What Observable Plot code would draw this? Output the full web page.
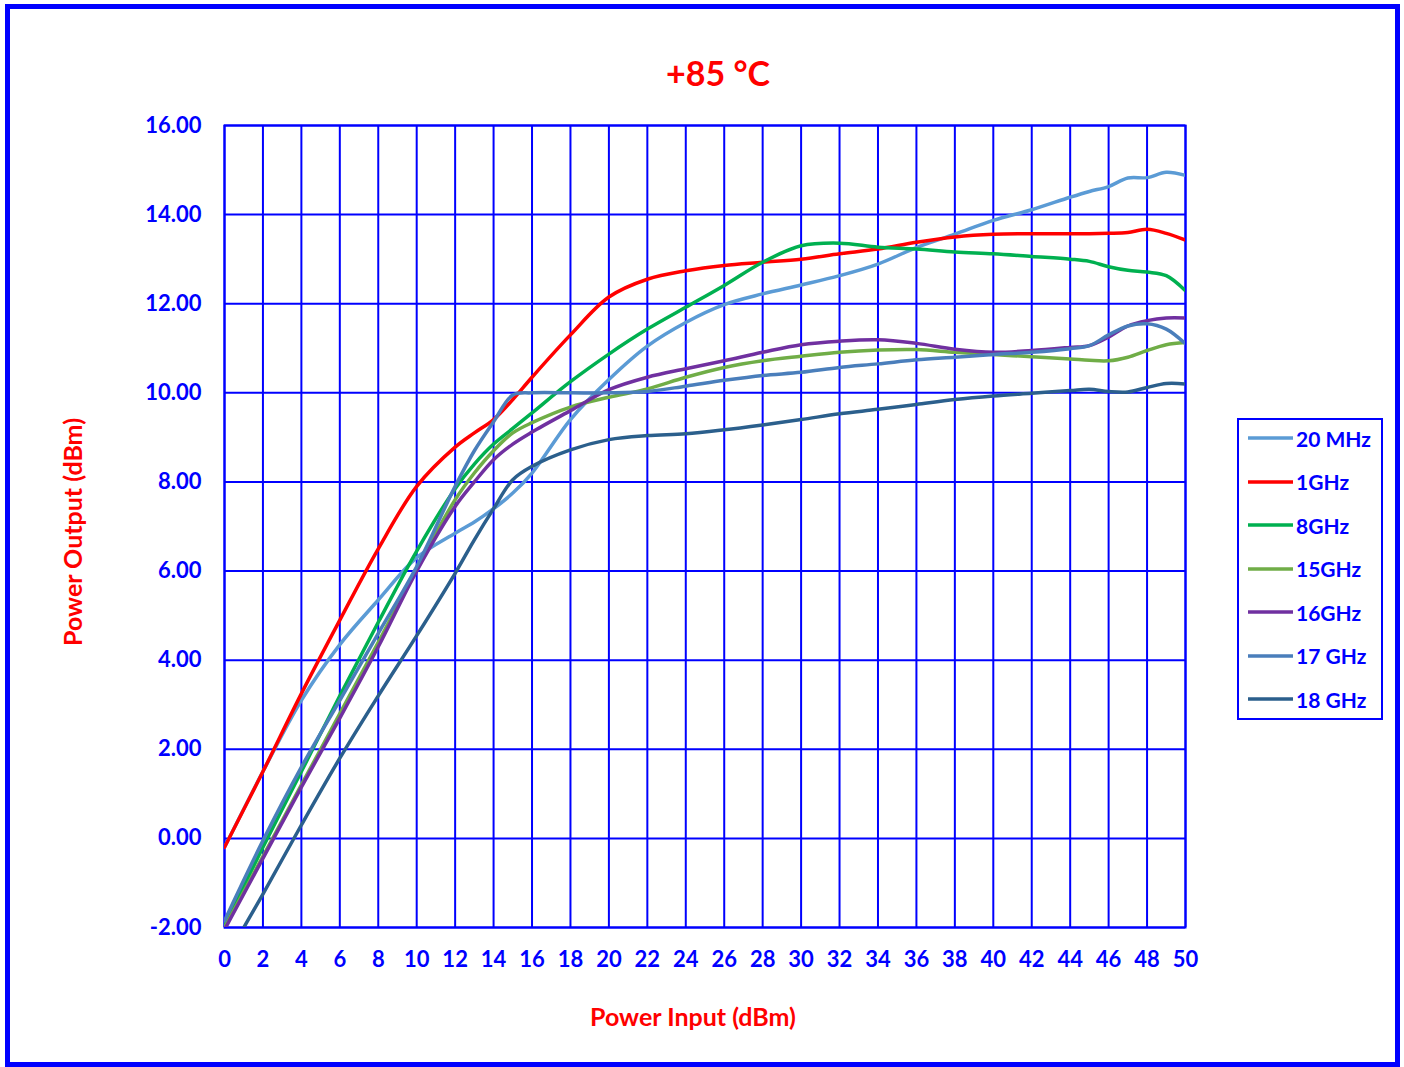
<!DOCTYPE html>
<html>
<head>
<meta charset="utf-8">
<script src="https://cdn.jsdelivr.net/npm/d3@7"></script>
<script src="https://cdn.jsdelivr.net/npm/@observablehq/plot@0.6"></script>
<style>
  html, body { margin: 0; padding: 0; background: #fff; }
  body { width: 1404px; height: 1067px; position: relative; overflow: hidden; font-family: Lato, "Open Sans", sans-serif; }
  #border { position: absolute; left: 5px; top: 4px; width: 1395px; height: 1063px; box-sizing: border-box; border: 5px solid #0000ff; }
  #chart { position: absolute; left: 0; top: 0; }
  .txt { position: absolute; font-weight: 700; white-space: nowrap; }
  #title { left: 0; width: 1436px; top: 52px; text-align: center; color: #ff0000; font-size: 34px; }
  #xlabel { left: 0; width: 1386px; top: 1001px; text-align: center; color: #ff0000; font-size: 25px; }
  #ylabel { left: 72px; top: 532px; color: #ff0000; font-size: 25px; transform: translate(-50%, -50%) rotate(-90deg); }
  #legend { position: absolute; left: 1237px; top: 418px; width: 146px; height: 302px; box-sizing: border-box; border: 2px solid #0000ff; background: #fff; }
  .item { position: absolute; left: 9px; height: 24px; display: flex; align-items: center; color: #0000ff; font-weight: 700; font-size: 21px; }
  .item svg { margin-right: 3px; }
</style>
</head>
<body>
<div id="border"></div>
<div id="chart"></div>
<div class="txt" id="title">+85 °C</div>
<div class="txt" id="xlabel">Power Input (dBm)</div>
<div class="txt" id="ylabel">Power Output (dBm)</div>
<div id="legend"></div>
<script>
// Input power sweep (dBm)
const powerIn = [0, 2, 4, 6, 8, 10, 12, 13, 14, 15, 16, 18, 20, 22, 24, 26, 28, 30, 32, 34, 36, 38, 40, 42, 44, 45, 46, 47, 48, 49, 50];

// Output power (dBm) for each test frequency
const out20MHz = [-0.2, 1.5, 3.1, 4.35, 5.35, 6.3, 6.85, 7.1, 7.4, 7.75, 8.2, 9.4, 10.3, 11.05, 11.58, 11.98, 12.22, 12.42, 12.63, 12.89, 13.26, 13.56, 13.87, 14.11, 14.39, 14.52, 14.63, 14.82, 14.83, 14.95, 14.88];
const out1GHz  = [-0.2, 1.5, 3.25, 4.9, 6.5, 7.9, 8.78, 9.1, 9.4, 9.85, 10.35, 11.3, 12.15, 12.55, 12.74, 12.86, 12.93, 13.0, 13.12, 13.23, 13.38, 13.5, 13.56, 13.57, 13.57, 13.57, 13.58, 13.6, 13.67, 13.58, 13.43];
const out8GHz  = [-1.95, -0.2, 1.5, 3.2, 4.85, 6.45, 7.85, 8.4, 8.85, 9.2, 9.55, 10.25, 10.87, 11.43, 11.92, 12.41, 12.93, 13.3, 13.36, 13.27, 13.23, 13.16, 13.12, 13.06, 13.0, 12.95, 12.83, 12.75, 12.71, 12.63, 12.29];
const out15GHz = [-2.0, -0.4, 1.2, 2.8, 4.4, 6.05, 7.6, 8.2, 8.7, 9.1, 9.33, 9.68, 9.9, 10.09, 10.35, 10.57, 10.72, 10.82, 10.91, 10.96, 10.97, 10.91, 10.86, 10.81, 10.76, 10.73, 10.72, 10.8, 10.95, 11.08, 11.13];
const out16GHz = [-2.05, -0.45, 1.15, 2.7, 4.3, 6.0, 7.45, 8.0, 8.5, 8.85, 9.12, 9.6, 10.07, 10.35, 10.54, 10.72, 10.91, 11.08, 11.16, 11.19, 11.11, 10.98, 10.91, 10.95, 11.02, 11.06, 11.25, 11.5, 11.62, 11.68, 11.68];
const out17GHz = [-1.85, -0.05, 1.6, 3.1, 4.6, 6.1, 7.9, 8.7, 9.35, 9.95, 10.0, 10.0, 10.0, 10.03, 10.15, 10.28, 10.39, 10.46, 10.57, 10.65, 10.74, 10.8, 10.86, 10.91, 10.99, 11.06, 11.3, 11.5, 11.55, 11.43, 11.1];
const out18GHz = [-2.75, -1.25, 0.3, 1.8, 3.2, 4.55, 5.95, 6.7, 7.4, 8.05, 8.35, 8.72, 8.95, 9.04, 9.08, 9.17, 9.28, 9.4, 9.53, 9.63, 9.74, 9.85, 9.93, 9.99, 10.05, 10.08, 10.03, 10.02, 10.12, 10.21, 10.2];

const seriesNames = ["20 MHz", "1GHz", "8GHz", "15GHz", "16GHz", "17 GHz", "18 GHz"];
const seriesValues = [out20MHz, out1GHz, out8GHz, out15GHz, out16GHz, out17GHz, out18GHz];
const seriesColors = ["#5b9bd5", "#ff0000", "#00b050", "#70ad47", "#7030a0", "#4a7ebb", "#2b5f8c"];

const xTicks = d3.range(0, 51, 2);
const yTicks = d3.range(-2, 16.01, 2);

// long-format table built from the arrays above
const rows = seriesNames.flatMap((name, i) =>
  powerIn.map((p, j) => ({series: name, pin: p, pout: seriesValues[i][j]})));

const blue = "#0000ff";
const tickFont = {fill: blue, fontWeight: 700, fontSize: 22, fontFamily: "Lato"};

const chart = Plot.plot({
  width: 1404,
  height: 1067,
  marginLeft: 224,
  marginRight: 219,
  marginTop: 125,
  marginBottom: 140,
  style: {background: "transparent", fontFamily: "Lato"},
  x: {domain: [0, 50], ticks: xTicks},
  y: {domain: [-2, 16], ticks: yTicks},
  color: {domain: seriesNames, range: seriesColors},
  marks: [
    Plot.gridX(xTicks, {stroke: blue, strokeOpacity: 1, strokeWidth: 2}),
    Plot.gridY(yTicks, {stroke: blue, strokeOpacity: 1, strokeWidth: 2}),
    Plot.frame({stroke: blue, strokeWidth: 2}),
    Plot.axisX(xTicks, {tickSize: 0, tickPadding: 24, label: null, tickFormat: d => String(d), ...tickFont}),
    Plot.axisY(yTicks, {tickSize: 0, tickPadding: 23, label: null, tickFormat: d => d.toFixed(2), ...tickFont}),
    Plot.line(rows, {x: "pin", y: "pout", z: "series", stroke: "series", strokeWidth: 3.5, curve: "catmull-rom", clip: true})
  ]
});
document.getElementById("chart").appendChild(chart);

// legend
const legend = document.getElementById("legend");
seriesNames.forEach((name, i) => {
  const item = document.createElement("div");
  item.className = "item";
  item.style.top = (6 + i * 43.5) + "px";
  item.innerHTML = `<svg width="45" height="6"><line x1="0" y1="3" x2="45" y2="3" stroke="${seriesColors[i]}" stroke-width="3.5"/></svg><span>${name}</span>`;
  legend.appendChild(item);
});
</script>
</body>
</html>
